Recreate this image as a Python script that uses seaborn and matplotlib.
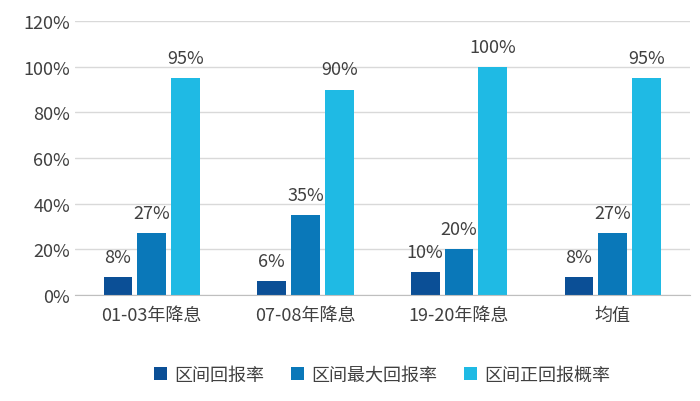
import pandas as pd
import matplotlib
matplotlib.use("Agg")
import matplotlib.pyplot as plt
import seaborn as sns
from matplotlib.ticker import PercentFormatter

periods = ["01-03年降息", "07-08年降息", "19-20年降息", "均值"]
series = ["区间回报率", "区间最大回报率", "区间正回报概率"]
huibao = [8, 6, 10, 8]
zuida = [27, 35, 20, 27]
gailv = [95, 90, 100, 95]
colors = ["#0b4f96", "#0a78b9", "#1fbae4"]

df = pd.DataFrame({
    "period": periods * 3,
    "series": [series[0]] * 4 + [series[1]] * 4 + [series[2]] * 4,
    "value": huibao + zuida + gailv,
})

sns.set_style("white")
plt.rcParams["font.family"] = ["Noto Sans CJK SC", "DejaVu Sans"]

fig = plt.figure(figsize=(7, 4.02), dpi=100)
ax = fig.add_axes([0.107, 0.264, 0.878, 0.681])
sns.barplot(data=df, x="period", y="value", hue="series", palette=colors,
            width=0.66, gap=0.15, ax=ax, saturation=1, linewidth=0)

for cont in ax.containers:
    ax.bar_label(cont, labels=[f"{v:.0f}%" for v in cont.datavalues],
                 padding=8, fontsize=13, color="#404040")

ax.set_ylim(0, 120)
ax.set_yticks(range(0, 121, 20))
ax.yaxis.set_major_formatter(PercentFormatter(decimals=0))
ax.grid(axis="y", color="#d9d9d9", linewidth=1)
ax.set_axisbelow(True)
for s in ["top", "right", "left"]:
    ax.spines[s].set_visible(False)
ax.spines["bottom"].set_color("#bfbfbf")
ax.tick_params(axis="both", labelsize=13, colors="#404040", length=0)
ax.tick_params(axis="x", pad=8)
ax.set_xlabel("")
ax.set_ylabel("")
ax.legend(loc="upper center", bbox_to_anchor=(0.5, -0.2), ncol=3, frameon=False,
          fontsize=13, handlelength=0.7, handleheight=0.7, columnspacing=1.5,
          handletextpad=0.4, labelcolor="#404040")

fig.savefig("out.png", dpi=100)
